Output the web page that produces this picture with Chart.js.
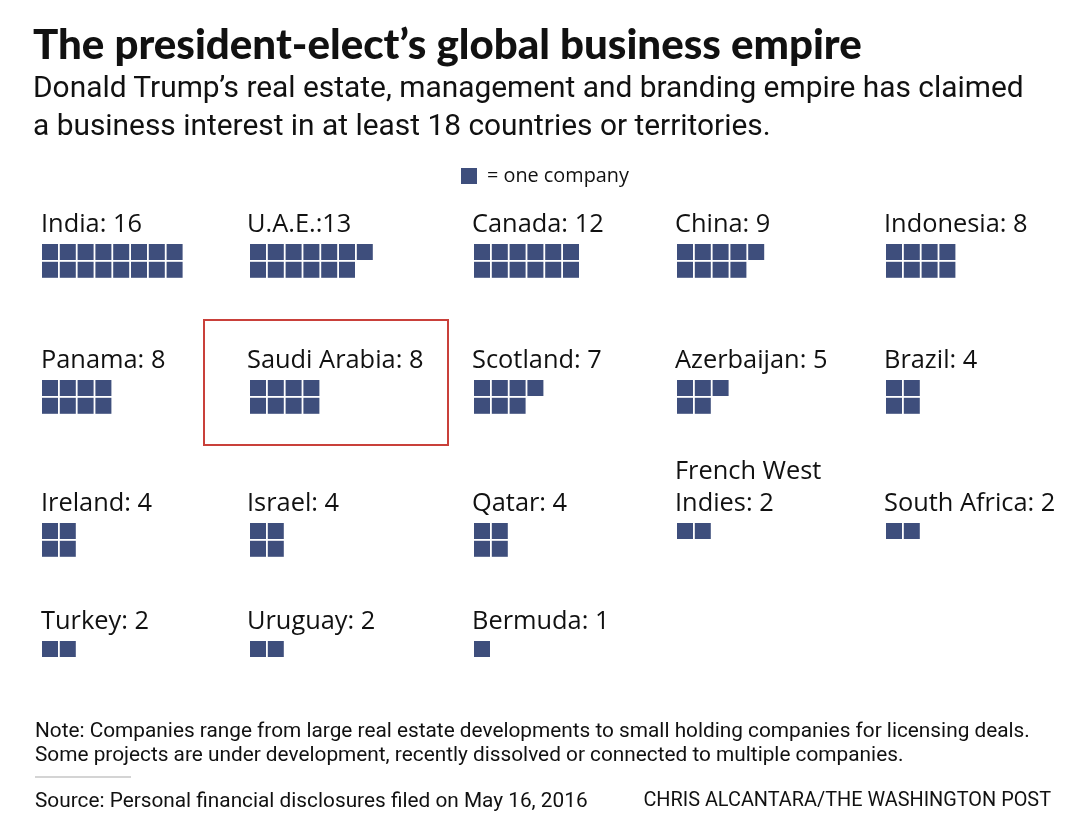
<!DOCTYPE html>
<html><head><meta charset="utf-8">
<script src="https://cdn.jsdelivr.net/npm/chart.js@4.4.0/dist/chart.umd.min.js"></script>
<style>
html,body{margin:0;padding:0;background:#fff;}
#wrap{position:relative;width:1080px;height:827px;overflow:hidden;color:#111;}
#c{position:absolute;left:0;top:0;}
.t{position:absolute;white-space:nowrap;line-height:1;}
.lab{position:absolute;white-space:nowrap;font-family:"Open Sans",sans-serif;color:#111;}
#sep{position:absolute;left:35px;top:776px;width:96px;height:2px;background:#d4d4d4;}
#legsq{position:absolute;left:461px;top:168px;width:16px;height:16px;background:#3e4e7c;}
</style></head><body>
<div id="wrap">
<canvas id="c" width="1080" height="827"></canvas>
<div id="title" class="t" style="font-family:Lato,sans-serif;font-weight:900;font-size:36px">The president-elect’s global business empire</div>
<div id="sub1" class="t" style="font-family:Roboto,sans-serif;font-size:28px">Donald Trump’s real estate, management and branding empire has claimed</div>
<div id="sub2" class="t" style="font-family:Roboto,sans-serif;font-size:28px">a business interest in at least 18 countries or territories.</div>
<div id="legsq"></div>
<div id="leg" class="t" style="font-family:'Open Sans',sans-serif;font-size:19px">= one company</div>
<div id="note1" class="t" style="font-family:Roboto,sans-serif;font-size:20px">Note: Companies range from large real estate developments to small holding companies for licensing deals.</div>
<div id="note2" class="t" style="font-family:Roboto,sans-serif;font-size:20px">Some projects are under development, recently dissolved or connected to multiple companies.</div>
<div id="sep"></div>
<div id="src" class="t" style="font-family:Roboto,sans-serif;font-size:20px">Source: Personal financial disclosures filed on May 16, 2016</div>
<div id="cred" class="t" style="font-family:Roboto,sans-serif;font-size:20px">CHRIS ALCANTARA/THE WASHINGTON POST</div>
</div>
<script>
// ---- data ----
const countries = ["India","U.A.E.","Canada","China","Indonesia","Panama","Saudi Arabia","Scotland","Azerbaijan","Brazil","Ireland","Israel","Qatar","French West Indies","South Africa","Turkey","Uruguay","Bermuda"];
const companies = [16,13,12,9,8,8,8,7,5,4,4,4,4,2,2,2,2,1];
const labelTexts = ["India: 16","U.A.E.:13","Canada: 12","China: 9","Indonesia: 8","Panama: 8","Saudi Arabia: 8","Scotland: 7","Azerbaijan: 5","Brazil: 4","Ireland: 4","Israel: 4","Qatar: 4","French West\nIndies: 2","South Africa: 2","Turkey: 2","Uruguay: 2","Bermuda: 1"];
const highlighted = ["Saudi Arabia"];

// ---- layout (page units) ----
const COLS = 5;
const colLeft = [42, 250, 474, 677, 886];
const labelLeft = [41, 247, 472, 675, 884];
const rowTop = [244, 380, 523, 641];
const PITCH = 17.8, SIZE = 16;
const SQ_COLOR = "#3e4e7c";

const points = [];
countries.forEach((c, k) => {
  const n = companies[k];
  const col = k % COLS, row = Math.floor(k / COLS);
  const perRow = n <= 2 ? n : Math.ceil(n / 2);
  for (let i = 0; i < n; i++) {
    points.push({x: colLeft[col] + (i % perRow) * PITCH + SIZE / 2,
                 y: rowTop[row] + Math.floor(i / perRow) * PITCH + SIZE / 2});
  }
});

const boxPlugin = {
  id: 'highlightBox',
  afterDatasetsDraw(chart) {
    const {ctx, scales: {x, y}} = chart;
    highlighted.forEach(name => {
      const k = countries.indexOf(name);
      const col = k % COLS, row = Math.floor(k / COLS);
      const l = x.getPixelForValue(colLeft[col] - 46), r = x.getPixelForValue(colLeft[col] + 198);
      const t = y.getPixelForValue(rowTop[row] - 60), b = y.getPixelForValue(rowTop[row] + 65);
      ctx.save(); ctx.strokeStyle = "#c9403a"; ctx.lineWidth = 2;
      ctx.strokeRect(l, t, r - l, b - t); ctx.restore();
    });
  }
};

const chart = new Chart(document.getElementById('c'), {
  type: 'scatter',
  data: {datasets: [{data: points, pointStyle: 'rect', pointRadius: SIZE / (2 * Math.SQRT1_2),
    backgroundColor: SQ_COLOR, borderWidth: 0, pointHoverRadius: SIZE / (2 * Math.SQRT1_2)}]},
  options: {
    responsive: false, animation: false, events: [],
    layout: {padding: 0, autoPadding: false},
    plugins: {legend: {display: false}, tooltip: {enabled: false}},
    scales: {
      x: {type: 'linear', min: 0, max: 1080, display: false},
      y: {type: 'linear', min: 0, max: 827, reverse: true, display: false}
    }
  },
  plugins: [boxPlugin]
});

// ---- text placement ----
function fs(el){ return parseFloat(getComputedStyle(el).fontSize); }
function fitW(el, target){ const w = el.getBoundingClientRect().width; el.style.fontSize = (fs(el) * target / w) + 'px'; }
function place(el, x, cy, right){ const f = fs(el); el.style.top = (cy - 0.55 * f) + 'px';
  if (right) { el.style.left = (x - el.getBoundingClientRect().width) + 'px'; } else el.style.left = x + 'px'; }
const $ = id => document.getElementById(id);

fitW($('title'), 829); place($('title'), 33, 45);
fitW($('sub1'), 991); $('sub2').style.fontSize = $('sub1').style.fontSize;
place($('sub1'), 33, 88); place($('sub2'), 33, 126);
fitW($('leg'), 142); place($('leg'), 487, 176);
fitW($('note1'), 995); ['note2','src'].forEach(id => $(id).style.fontSize = $('note1').style.fontSize);
place($('note1'), 35, 731); place($('note2'), 35, 755); place($('src'), 35, 801);
fitW($('cred'), 408); place($('cred'), 1051, 801, true);

// country labels positioned through the chart scales
const wrap = $('wrap');
const probe = document.createElement('div'); probe.className = 'lab'; probe.style.fontSize = '24px';
probe.textContent = labelTexts[0]; wrap.appendChild(probe);
const labFs = 24 * 101 / probe.getBoundingClientRect().width; wrap.removeChild(probe);
const LINE = 32;
countries.forEach((c, k) => {
  const col = k % COLS, row = Math.floor(k / COLS);
  const lines = labelTexts[k].split('\n');
  const d = document.createElement('div'); d.className = 'lab';
  d.style.fontSize = labFs + 'px'; d.style.lineHeight = LINE + 'px';
  d.innerHTML = lines.join('<br>');
  const px = chart.scales.x.getPixelForValue(labelLeft[col]);
  const cy = chart.scales.y.getPixelForValue(rowTop[row] - 21);
  d.style.left = px + 'px';
  d.style.top = (cy - LINE / 2 - (lines.length - 1) * LINE - 0.03 * labFs) + 'px';
  wrap.appendChild(d);
});
</script>
</body></html>
